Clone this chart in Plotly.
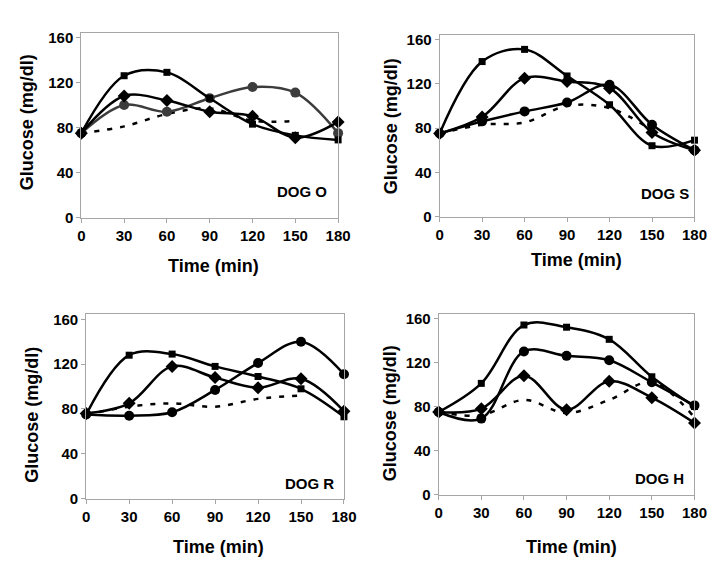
import plotly.graph_objects as go

W, H = 719, 569

# ---------------- data ----------------
time = [0, 30, 60, 90, 120, 150, 180]
time_dotted = [0, 30, 60, 90, 120, 150]
tick_x = [0, 30, 60, 90, 120, 150, 180]
tick_y = [0, 40, 80, 120, 160]
panel_labels = ["DOG O", "DOG S", "DOG R", "DOG H"]

O_square = [75, 126, 129, 106, 83, 73, 69]
O_diamond = [75, 108, 104, 94, 90, 71, 85]
O_circle = [75, 100, 94, 106, 116, 111, 75]
O_dotted = [75, 81, 92, 97, 86, 86]

S_square = [75, 140, 151, 127, 101, 64, 69]
S_diamond = [75, 90, 125, 122, 116, 76, 60]
S_circle = [75, 86, 95, 103, 119, 83, 60]
S_dotted = [75, 83, 85, 100, 98, 78]

R_square = [75, 128, 129, 118, 109, 98, 73]
R_diamond = [76, 85, 118, 108, 99, 107, 78]
R_circle = [75, 74, 77, 97, 121, 140, 111]
R_dotted = [75, 82, 85, 82, 89, 92]

H_square = [75, 101, 154, 152, 141, 107, 80]
H_diamond = [75, 78, 108, 77, 103, 88, 65]
H_circle = [75, 69, 130, 126, 122, 102, 81]
H_dotted = [75, 72, 86, 74, 86, 102, 70]
time_dotted_H = [0, 30, 60, 90, 120, 150, 180]

panels = [
    dict(sq=O_square, di=O_diamond, ci=O_circle, dt=O_dotted, tdt=time_dotted, circ_col="#3c3c3c"),
    dict(sq=S_square, di=S_diamond, ci=S_circle, dt=S_dotted, tdt=time_dotted, circ_col="#000000"),
    dict(sq=R_square, di=R_diamond, ci=R_circle, dt=R_dotted, tdt=time_dotted, circ_col="#000000"),
    dict(sq=H_square, di=H_diamond, ci=H_circle, dt=H_dotted, tdt=time_dotted_H, circ_col="#000000"),
]

# ---------------- layout geometry (pixels) ----------------
# left, right, y of value 0, y of value 160
boxes = [
    (71, 334, 210, 26),
    (438, 699, 209, 28),
    (76, 340, 497, 314),
    (437, 699, 493, 313),
]
label_pos = [(297, 183), (669, 185), (305, 482), (663, 477)]
xtitle_pos = [(206, 259), (578, 253), (211, 547), (573, 547)]
ytitle_pos = [(15, 113), (388, 117), (21, 412), (388, 410)]

FONT = "Liberation Sans, Arial, sans-serif"
AX_COL = "#a6a6a6"

fig = go.Figure()
annotations = []

for i, (p, box) in enumerate(zip(panels, boxes)):
    n = "" if i == 0 else str(i + 1)
    xa, ya = "x" + n, "y" + n
    left, right, y0, y160 = box
    scale = (y0 - y160) / 160.0
    top = y160 - 5
    ymax = 160 + 5 / scale

    common = dict(xaxis=xa, yaxis=ya, mode="lines+markers", line_shape="spline",
                  cliponaxis=False, showlegend=False)
    fig.add_trace(go.Scatter(x=p["tdt"], y=p["dt"], xaxis=xa, yaxis=ya, mode="lines",
                             line=dict(color="#000000", width=2.5, dash="5px,8px", shape="spline"),
                             cliponaxis=False, showlegend=False))
    fig.add_trace(go.Scatter(x=time, y=p["ci"], **common,
                             line=dict(color=p["circ_col"], width=2.5),
                             marker=dict(symbol="circle", size=10, color=p["circ_col"])))
    fig.add_trace(go.Scatter(x=time, y=p["di"], **common,
                             line=dict(color="#000000", width=2.5),
                             marker=dict(symbol="diamond", size=10, color="#000000")))
    fig.add_trace(go.Scatter(x=time, y=p["sq"], **common,
                             line=dict(color="#000000", width=2.5),
                             marker=dict(symbol="square", size=7, color="#000000")))

    xdom = [left / W, right / W]
    ydom = [1 - y0 / H, 1 - top / H]
    fig.layout["xaxis" + n] = dict(
        domain=xdom, anchor=ya, range=[0, 180], tickvals=tick_x,
        ticks="outside", ticklen=4, tickcolor=AX_COL, showline=True, linecolor=AX_COL,
        linewidth=1, mirror=True, showgrid=False, zeroline=False,
        tickfont=dict(family=FONT, size=15, color="#000000", weight="bold"))
    fig.layout["yaxis" + n] = dict(
        domain=ydom, anchor=xa, range=[0, ymax], tickvals=tick_y,
        ticks="outside", ticklen=4, tickcolor=AX_COL, showline=True, linecolor=AX_COL,
        linewidth=1, mirror=True, showgrid=False, zeroline=False,
        tickfont=dict(family=FONT, size=15, color="#000000", weight="bold"))

    lx, ly = label_pos[i]
    annotations.append(dict(text=panel_labels[i], x=lx / W, y=1 - ly / H, xref="paper", yref="paper",
                            showarrow=False, xanchor="center", yanchor="middle",
                            font=dict(family=FONT, size=15, color="#000000", weight="bold")))
    tx, ty = xtitle_pos[i]
    annotations.append(dict(text="Time (min)", x=tx / W, y=1 - ty / H, xref="paper", yref="paper",
                            showarrow=False, xanchor="center", yanchor="middle",
                            font=dict(family=FONT, size=18, color="#000000", weight="bold")))
    gx, gy = ytitle_pos[i]
    annotations.append(dict(text="Glucose (mg/dl)", x=gx / W, y=1 - gy / H, xref="paper", yref="paper",
                            showarrow=False, xanchor="center", yanchor="middle", textangle=-90,
                            font=dict(family=FONT, size=18, color="#000000", weight="bold")))

fig.update_layout(width=W, height=H, margin=dict(l=0, r=0, t=0, b=0),
                  paper_bgcolor="white", plot_bgcolor="white", annotations=annotations)

fig.write_html("out.html")
